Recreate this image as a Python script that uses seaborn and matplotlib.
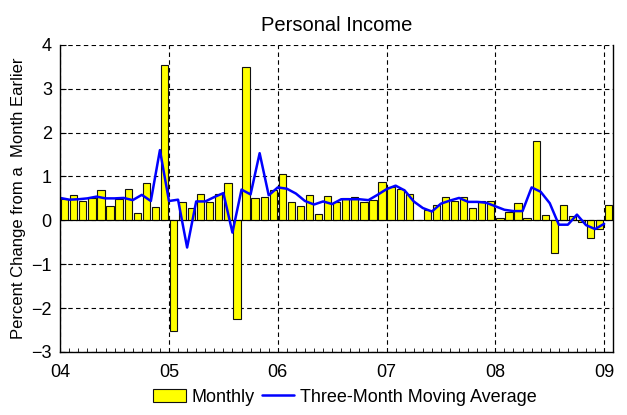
import numpy as np
import matplotlib
matplotlib.use("Agg")
import matplotlib.pyplot as plt
from matplotlib.patches import Patch
from matplotlib.lines import Line2D
from matplotlib.ticker import MultipleLocator
import seaborn as sns

# monthly percent change, Jan 2004 .. Jan 2009
monthly = [0.49, 0.57, 0.44, 0.50, 0.68, 0.33, 0.49, 0.72, 0.16, 0.86, 0.31, 3.55,
           -2.53, 0.41, 0.28, 0.59, 0.41, 0.59, 0.86, -2.25, 3.50, 0.50, 0.52, 0.68,
           1.06, 0.41, 0.33, 0.57, 0.15, 0.55, 0.41, 0.50, 0.52, 0.41, 0.46, 0.88,
           0.77, 0.71, 0.59, 0.01, 0.23, 0.36, 0.54, 0.44, 0.54, 0.28, 0.44, 0.44,
           0.05, 0.19, 0.39, 0.05, 1.80, 0.12, -0.74, 0.34, 0.10, -0.05, -0.41, -0.19,
           0.36]

# three-month moving average, same months
moving_avg = [0.51, 0.47, 0.48, 0.50, 0.54, 0.50, 0.50, 0.51, 0.46, 0.58, 0.44, 1.60,
              0.44, 0.47, -0.62, 0.43, 0.43, 0.53, 0.62, -0.28, 0.70, 0.59, 1.53, 0.57,
              0.75, 0.72, 0.61, 0.44, 0.36, 0.43, 0.37, 0.48, 0.48, 0.48, 0.46, 0.58,
              0.71, 0.79, 0.68, 0.43, 0.28, 0.20, 0.38, 0.45, 0.51, 0.42, 0.42, 0.40,
              0.32, 0.24, 0.21, 0.21, 0.75, 0.65, 0.39, -0.10, -0.10, 0.13, -0.11, -0.20,
              -0.08]

year_labels = ["04", "05", "06", "07", "08", "09"]

sns.set_style("white")
plt.rcParams["font.family"] = ["Liberation Sans", "DejaVu Sans"]
for key in ["text.color", "axes.labelcolor", "xtick.color", "ytick.color"]:
    plt.rcParams[key] = "black"

fig = plt.figure(figsize=(6.27, 4.15), dpi=100)
ax = fig.add_axes([0.096, 0.152, 0.882, 0.740])

month_idx = np.arange(len(monthly))

# bars sit in the middle of each month, the average line at month starts
sns.barplot(x=month_idx + 0.5, y=monthly, native_scale=True, color="#ffff00",
            saturation=1, edgecolor="#111111", linewidth=0.8, width=0.8, ax=ax)
sns.lineplot(x=month_idx, y=moving_avg, color="#0000ff", linewidth=1.8, ax=ax)

ax.set_xlim(0, len(monthly))
ax.set_ylim(-3, 4)
ax.set_xticks(np.arange(len(year_labels)) * 12)
ax.set_xticklabels(year_labels)
ax.xaxis.set_minor_locator(MultipleLocator(1))
ax.set_yticks(range(-3, 5))

ax.grid(True, which="major", color="black", linestyle=(0, (4, 3)), linewidth=0.8)
ax.set_axisbelow(True)
ax.axhline(0, color="black", linewidth=0.8, zorder=1)

for side in ["left", "bottom", "right"]:
    ax.spines[side].set_visible(True)
    ax.spines[side].set_color("black")
    ax.spines[side].set_linewidth(1.0)
ax.spines["top"].set_visible(False)

ax.tick_params(axis="x", which="major", direction="out", length=5, width=0.8,
               labelsize=13, pad=4)
ax.tick_params(axis="x", which="minor", direction="in", length=3, width=0.6,
               bottom=True)
ax.tick_params(axis="y", which="major", direction="in", length=4, width=0.8,
               labelsize=13, pad=6, left=True)

ax.set_xlabel("")
ax.set_ylabel("Percent Change from a  Month Earlier", fontsize=12, labelpad=4)
ax.set_title("Personal Income", fontsize=14.5, pad=10)

handles = [Patch(facecolor="#ffff00", edgecolor="#111111", linewidth=0.8),
           Line2D([0], [0], color="#0000ff", linewidth=1.8)]
fig.legend(handles, ["Monthly", "Three-Month Moving Average"], loc="center",
           bbox_to_anchor=(0.55, 0.043), ncol=2, frameon=False, fontsize=13,
           handlelength=1.8, handletextpad=0.3, columnspacing=0.4)

fig.savefig("out.png", dpi=100)
